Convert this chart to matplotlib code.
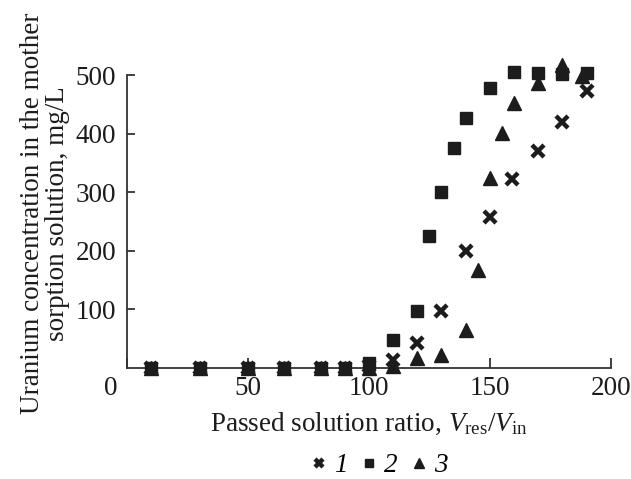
import matplotlib
matplotlib.use("Agg")
import matplotlib.pyplot as plt
from matplotlib.transforms import ScaledTranslation

# --- style ---
plt.rcParams['font.family'] = 'Liberation Serif'
plt.rcParams['mathtext.fontset'] = 'custom'
plt.rcParams['mathtext.rm'] = 'Liberation Serif'
plt.rcParams['mathtext.it'] = 'Liberation Serif:italic'
plt.rcParams['font.size'] = 19.5

INK = '#1c1c1c'

# --- data ---
x1 = [10, 30, 50, 65, 80, 90, 100, 110, 120, 130, 140, 150, 159, 170, 180, 190]
y1 = [0, 0, 0, 0, 0, 0, 3, 14, 43, 97, 199, 257, 322, 370, 420, 472]

x2 = [10, 30, 50, 65, 80, 90, 100, 110, 120, 125, 130, 135, 140, 150, 160, 170, 180, 190]
y2 = [0, 0, 0, 0, 0, 0, 8, 48, 98, 226, 300, 376, 427, 478, 505, 503, 502, 503]

x3 = [10, 30, 50, 65, 80, 90, 100, 110, 120, 130, 140, 145, 150, 155, 160, 170, 180, 188]
y3 = [0, 0, 0, 0, 0, 0, 0, 3, 17, 22, 65, 168, 324, 401, 452, 486, 517, 498]

series_labels = ['1', '2', '3']
xticks = [0, 50, 100, 150, 200]
yticks = [100, 200, 300, 400, 500]

# --- figure ---
fig = plt.figure(figsize=(6.31, 4.79), dpi=100)
ax = fig.add_axes([0.2013, 0.2317, 0.7667, 0.6117])

ax.plot(x3, y3, linestyle='none', marker='^', ms=9.5, color=INK,
        clip_on=False, zorder=3, label=series_labels[2])
ax.plot(x1, y1, linestyle='none', marker='x', ms=8, mew=3.2, color=INK,
        clip_on=False, zorder=4, label=series_labels[0])
ax.plot(x2, y2, linestyle='none', marker='s', ms=8.5, color=INK,
        clip_on=False, zorder=5, label=series_labels[1])

ax.set_xlim(0, 200)
ax.set_ylim(0, 500)
ax.set_xticks(xticks)
ax.set_yticks(yticks)
ax.set_xticklabels([str(v) for v in xticks])
ax.set_yticklabels([str(v) for v in yticks])

for s in ['top', 'right']:
    ax.spines[s].set_visible(False)
for s in ['left', 'bottom']:
    ax.spines[s].set_color('#333333')
    ax.spines[s].set_linewidth(1.3)

ax.tick_params(axis='x', direction='in', length=7, width=1.3, pad=6, colors='#333333', labelcolor=INK)
ax.tick_params(axis='y', direction='in', length=6, width=1.3, pad=8, colors='#333333', labelcolor=INK)

# the origin "0" sits a bit to the left of the corner
lab0 = ax.get_xticklabels()[0]
lab0.set_transform(lab0.get_transform() + ScaledTranslation(-0.16, 0, fig.dpi_scale_trans))

ax.set_xlabel('Passed solution ratio, $V_{\\rm res}/V_{\\rm in}$', color=INK, labelpad=7)
fig.text(0.072, 0.555, 'Uranium concentration in the mother\nsorption solution, mg/L',
         rotation=90, ha='center', va='center', multialignment='center',
         linespacing=1.0, color=INK)

# legend below
h, l = ax.get_legend_handles_labels()
order = [1, 2, 0]
leg = fig.legend([h[i] for i in order], [l[i] for i in order], loc='center',
                 bbox_to_anchor=(380 / 631, 1 - 466 / 479), ncol=3, frameon=False,
                 handlelength=0.5, handletextpad=0.3, columnspacing=0.55,
                 markerscale=0.75, borderaxespad=0)
for t in leg.get_texts():
    t.set_fontstyle('italic')

fig.savefig('out.png', dpi=100)
